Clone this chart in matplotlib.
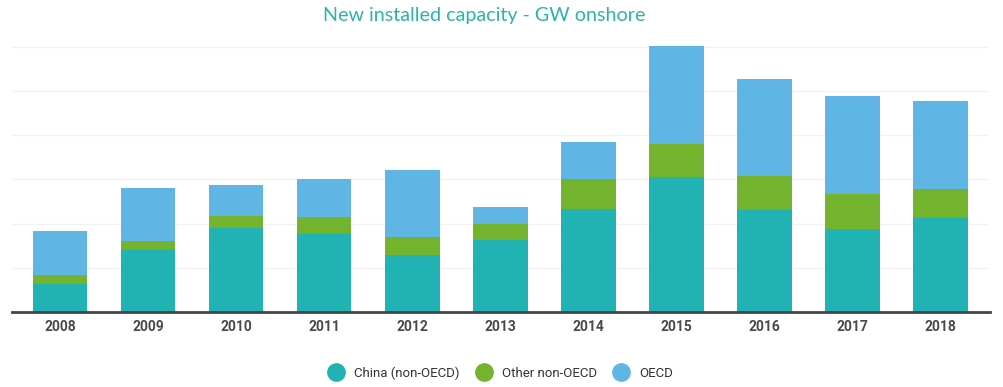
import matplotlib
matplotlib.use("Agg")
import matplotlib.pyplot as plt
from matplotlib.lines import Line2D
import numpy as np

years = ["2008", "2009", "2010", "2011", "2012", "2013", "2014", "2015", "2016", "2017", "2018"]
china = [6.3, 14.0, 19.0, 17.6, 12.8, 16.2, 23.3, 30.6, 23.1, 18.7, 21.3]
other_non_oecd = [2.0, 2.0, 2.8, 3.9, 4.2, 3.7, 6.8, 7.5, 7.6, 7.9, 6.6]
oecd = [9.9, 12.1, 6.9, 8.6, 15.1, 3.8, 8.4, 22.3, 22.0, 22.3, 20.0]

series_names = ["China (non-OECD)", "Other non-OECD", "OECD"]
colors = ["#21b2b3", "#73b32d", "#5fb5e3"]

W, H = 1004, 387
fig = plt.figure(figsize=(W / 100, H / 100), dpi=100)
left, right = 11.7 / W, 990 / W
bottom = (H - 311.7) / H
top_px = 40
ax = fig.add_axes([left, bottom, right - left, (311.7 - top_px) / H])

x = np.arange(len(years))
bw = 0.62
b = np.zeros(len(years))
for vals, c in zip([china, other_non_oecd, oecd], colors):
    ax.bar(x, vals, bw, bottom=b, color=c, zorder=2, linewidth=0)
    b = b + np.array(vals)

ax.set_xlim(-0.548, 10.56)
ax.set_ylim(0, (311.7 - top_px) / 4.407)
ax.set_yticks([10, 20, 30, 40, 50, 60])
ax.yaxis.grid(True, color="#f2f2f2", linewidth=1, zorder=0)
ax.tick_params(axis="y", left=False, labelleft=False)
ax.set_xticks(x)
ax.set_xticklabels(years, fontfamily="Roboto", fontweight="bold", fontsize=10, color="#4a4a4a")
ax.tick_params(axis="x", length=0, pad=6)
for s in ["top", "right", "left"]:
    ax.spines[s].set_visible(False)
ax.spines["bottom"].set_color("#444444")
ax.spines["bottom"].set_linewidth(2)
ax.spines["bottom"].set_zorder(3)

fig.text(484 / W, 1 - 16 / H, "New installed capacity - GW onshore", ha="center", va="center",
         fontfamily="Lato", fontsize=14.2, color="#2bb3ac")

handles = [Line2D([0], [0], marker="o", linestyle="", markersize=13.5, markerfacecolor=c,
                  markeredgewidth=0) for c in colors]
fig.legend(handles, series_names, loc="center", bbox_to_anchor=(500 / W, 1 - 373 / H), ncol=3,
           frameon=False, prop={"family": "Roboto", "size": 9.5}, handletextpad=0.7,
           columnspacing=1.1, handlelength=1.4, labelcolor="#333333")

fig.savefig("out.png", dpi=100)
